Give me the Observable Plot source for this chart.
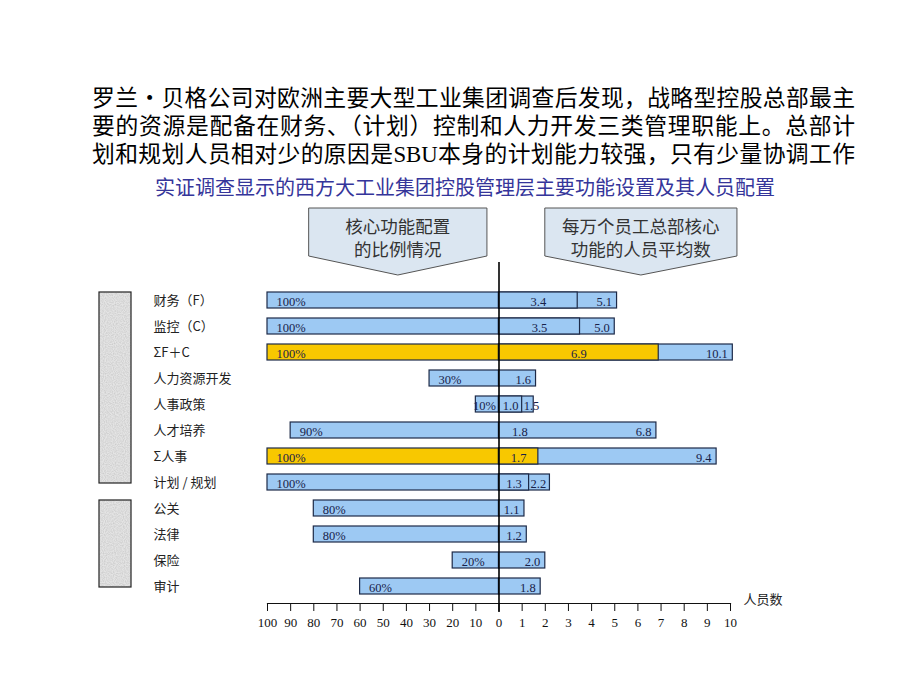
<!DOCTYPE html>
<html>
<head>
<meta charset="utf-8">
<script src="https://cdn.jsdelivr.net/npm/d3@7"></script>
<script src="https://cdn.jsdelivr.net/npm/@observablehq/plot@0.6"></script>
<style>
  body { margin: 0; background: #fff; }
  #page { position: relative; width: 920px; height: 690px; overflow: hidden; background: #fff; }
  #title { position: absolute; left: 92px; top: 83px; width: 763px; font-family: "Noto Sans CJK SC", sans-serif;
        font-size: 22.8px; line-height: 28px; color: #000; text-align: justify; text-align-last: justify; }
  #title .lat { font-family: "Liberation Serif", serif; }
  #sub { position: absolute; left: 0; width: 930px; top: 175px; text-align: center;
         font-family: "Noto Sans CJK SC", sans-serif; font-size: 20px; line-height: 24px; color: #35359a; }
  #chart { position: absolute; left: 0; top: 200px; }
</style>
</head>
<body>
<div id="page">
  <div id="title">罗兰•贝格公司对欧洲主要大型工业集团调查后发现，战略型控股总部最主<br>要的资源是配备在财务、（计划）控制和人力开发三类管理职能上。总部计<br>划和规划人员相对少的原因是<span class="lat">SBU</span>本身的计划能力较强，只有少量协调工作</div>
  <div id="sub">实证调查显示的西方大工业集团控股管理层主要功能设置及其人员配置</div>
  <div id="chart"></div>
</div>
<script>
// ---- data ----
const categories = ["财务（F）", "监控（C）", "ΣF＋C", "人力资源开发", "人事政策", "人才培养",
                    "Σ人事", "计划 / 规划", "公关", "法律", "保险", "审计"];
const sharePct   = [100, 100, 100, 30, 10, 90, 100, 100, 80, 80, 20, 60];
const staffFirst = [3.4, 3.5, 6.9, 1.6, 1.0, 1.8, 1.7, 1.3, 1.1, 1.2, 2.0, 1.8];
const staffSecond = [5.1, 5.0, 10.1, null, 1.5, 6.8, 9.4, 2.2, null, null, null, null];
const summaryRows = ["ΣF＋C", "Σ人事"];
const unsplitRows = ["人才培养"];
const xTicks = [-10, -9, -8, -7, -6, -5, -4, -3, -2, -1, 0, 1, 2, 3, 4, 5, 6, 7, 8, 9, 10];
const groups = [["财务（F）", "计划 / 规划"], ["公关", "审计"]];
const calloutLeft = ["核心功能配置", "的比例情况"];
const calloutRight = ["每万个员工总部核心", "功能的人员平均数"];
const axisLabel = "人员数";

const rows = categories.map((cat, i) => ({
  cat, pct: sharePct[i], a: staffFirst[i], b: staffSecond[i], sum: summaryRows.includes(cat)
}));

const BLUE = "#9dc9f3", GOLD = "#f8c800", EDGE = "#1d2a48", TXT = "#18224a";
const wideOuter = rows.filter(d => d.b != null && d.b - d.a >= 1);
const narrowOuter = rows.filter(d => d.b != null && d.b - d.a < 1);
const shortShare = d => d.pct <= 10;

const plot = Plot.plot({
  width: 920, height: 450,
  marginLeft: 267, marginRight: 190, marginTop: 83.5, marginBottom: 47,
  x: { domain: [-10, 10] },
  y: { domain: categories, paddingInner: 0.39, paddingOuter: 0.286, axis: null },
  color: { type: "identity" },
  style: { fontFamily: '"Liberation Serif", "Noto Sans CJK SC", serif', fontSize: "12.5px", background: "transparent", overflow: "visible" },
  marks: [
    // left: share bars
    Plot.barX(rows, { x1: 0, x2: d => -d.pct / 10, y: "cat", fill: d => d.sum ? GOLD : BLUE, stroke: EDGE, strokeWidth: 1.2 }),
    // right: outer bars
    Plot.barX(rows, { x1: 0, x2: d => d.b ?? d.a, y: "cat", fill: d => (d.b == null && d.sum) ? GOLD : BLUE, stroke: EDGE, strokeWidth: 1.2 }),
    // right: inner bars
    Plot.barX(rows.filter(d => d.b != null && !unsplitRows.includes(d.cat)),
      { x1: 0, x2: "a", y: "cat", fill: d => d.sum ? GOLD : BLUE, stroke: EDGE, strokeWidth: 1.2 }),
    // row labels
    Plot.text(rows, { y: "cat", text: "cat", frameAnchor: "left", dx: -114, textAnchor: "start", fontSize: 13, fill: "#222", fontFamily: '"Noto Sans CJK SC", sans-serif' }),
    // share labels
    Plot.text(rows.filter(d => !shortShare(d)), { x: d => -d.pct / 10, y: "cat", text: d => d.pct + "%", textAnchor: "start", dx: 9, dy: 1, fill: TXT }),
    Plot.text(rows.filter(shortShare), { x: 0, y: "cat", text: d => d.pct + "%", textAnchor: "end", dx: -3, dy: 1, fill: TXT }),
    // staff labels
    Plot.text(rows.filter(d => d.b != null), { x: d => d.a / 2, y: "cat", text: d => d.a.toFixed(1), textAnchor: "middle", dy: 1, fill: TXT }),
    Plot.text(rows.filter(d => d.b == null), { x: "a", y: "cat", text: d => d.a.toFixed(1), textAnchor: "end", dx: -5, dy: 1, fill: TXT }),
    Plot.text(wideOuter, { x: "b", y: "cat", text: d => d.b.toFixed(1), textAnchor: "end", dx: -5, dy: 1, fill: TXT }),
    Plot.text(narrowOuter, { x: "a", y: "cat", text: d => d.b.toFixed(1), textAnchor: "start", dx: 1.5, dy: 1, fill: TXT }),
    // axis
    Plot.frame({ anchor: "bottom", stroke: "#111", strokeWidth: 1.2 }),
    Plot.axisX(xTicks, { tickSize: 8, tickPadding: 6, tickFormat: d => d < 0 ? String(-d * 10) : String(d), stroke: "#111", fill: "#111", fontSize: 13 }),
    Plot.text([axisLabel], { frameAnchor: "bottom-right", dx: 13, textAnchor: "start", fontSize: 13, fill: "#222", fontFamily: '"Noto Sans CJK SC", sans-serif' }),
    // center line
    Plot.ruleX([0], { stroke: "#000", strokeWidth: 1.6, insetTop: -21.5, insetBottom: -9 })
  ]
});

document.getElementById("chart").appendChild(plot);

// ---- decorations: grouping boxes and callouts ----
const sx = plot.scale("x"), sy = plot.scale("y");
const svg = d3.select(plot);
const defs = svg.append("defs");
const f = defs.append("filter").attr("id", "speck").attr("x", 0).attr("y", 0).attr("width", 1).attr("height", 1);
f.append("feTurbulence").attr("type", "fractalNoise").attr("baseFrequency", 0.9).attr("numOctaves", 1).attr("seed", 3).attr("result", "n");
f.append("feColorMatrix").attr("in", "n").attr("type", "matrix")
  .attr("values", "0 0 0 0 0.5  0 0 0 0 0.5  0 0 0 0 0.5  0 0 0 -1.2 0.8").attr("result", "m");
f.append("feComposite").attr("in", "m").attr("in2", "SourceGraphic").attr("operator", "in");

const deco = svg.insert("g", "g");
const x0 = sx.apply(-10);
groups.forEach(([from, to]) => {
  const top = sy.apply(from);
  const bot = sy.apply(to) + sy.bandwidth - 7;
  deco.append("rect").attr("x", x0 - 168).attr("y", top).attr("width", 32).attr("height", bot - top)
    .attr("fill", "#e4e4e4");
  deco.append("rect").attr("x", x0 - 168).attr("y", top).attr("width", 32).attr("height", bot - top)
    .attr("fill", "#000").attr("filter", "url(#speck)");
  deco.append("rect").attr("x", x0 - 168).attr("y", top).attr("width", 32).attr("height", bot - top)
    .attr("fill", "none").attr("stroke", "#222").attr("stroke-width", 1.2);
});

function callout(xa, xb, lines) {
  const l = sx.apply(xa), r = sx.apply(xb), c = (l + r) / 2;
  const top = 8, side = 56, tip = 75;
  deco.append("polygon")
    .attr("points", [[l, top], [r, top], [r, side], [c, tip], [l, side]].map(p => p.join(",")).join(" "))
    .attr("fill", "#dbe6f1").attr("stroke", "#555").attr("stroke-width", 1);
  lines.forEach((t, i) => {
    deco.append("text").attr("x", c).attr("y", 25.5 + i * 23).attr("text-anchor", "middle")
      .attr("dominant-baseline", "central")
      .attr("font-family", '"Noto Sans CJK SC", sans-serif').attr("font-size", 17.5).attr("fill", "#333").text(t);
  });
}
callout(-8.2, -0.5, calloutLeft);
callout(2.0, 10.3, calloutRight);
</script>
</body>
</html>
